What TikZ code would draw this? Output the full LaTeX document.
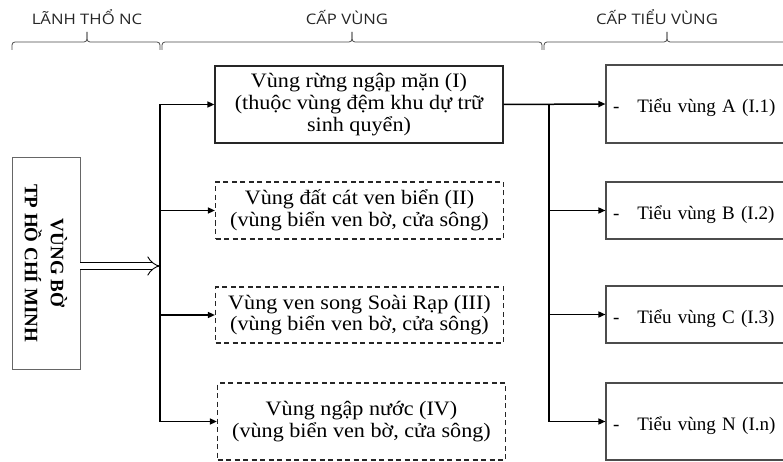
\documentclass[tikz,border=0pt]{standalone}
\usepackage{fontspec}
\setmainfont{Liberation Serif}
\newfontfamily\hdrfont[FakeStretch=1.15]{Open Sans}
\newfontfamily\widefont[FakeStretch=1.08]{Liberation Serif}
\usetikzlibrary{arrows.meta}
\begin{document}
\begin{tikzpicture}[x=1pt,y=-1pt,
 hdr/.style={font=\hdrfont\fontsize{14.5}{16}\selectfont, anchor=base, inner sep=0pt, text=black!85},
 brc/.style={draw=black!70, line width=0.8pt, rounded corners=3pt},
 mainbox/.style={draw=black!85, line width=1.2pt, minimum width=288pt, inner sep=0pt, align=center, font=\widefont\fontsize{20.5}{21.6}\selectfont},
 dashbox/.style={mainbox, dash pattern=on 5pt off 3.5pt},
 subbox/.style={draw=black!70, line width=1.1pt, minimum width=194pt, text width=180pt, align=left, inner xsep=7pt, inner ysep=0pt, text height=20pt, text depth=3pt, font=\fontsize{19}{21}\selectfont},
 leftbox/.style={draw=black!60, line width=0.9pt, rotate=-90, minimum width=212pt, minimum height=68pt, inner sep=0pt, align=center, font=\bfseries\fontsize{19}{26}\selectfont},
 conn/.style={line width=1.5pt, black},
 arr/.style={conn, -{Triangle[length=7pt,width=6pt]}},
 dbl/.style={double, double distance=6pt, line width=0.9pt, -{Implies}}
]
\clip (0,0) rectangle (783,462);
\fill[white] (0,0) rectangle (783,462);

% headers
\node[hdr] (h1) at (87,25) {LÃNH THỔ NC};
\node[hdr] (h2) at (347,25) {CẤP VÙNG};
\node[hdr] (h3) at (657,25) {CẤP TIỂU VÙNG};

% braces
\draw[brc] (12,50) -- (12,42) -- (87,42) -- (87,32);
\draw[brc] (160,50) -- (160,42) -- (87,42) -- (87,32);
\draw[brc] (162,50) -- (162,42) -- (352,42) -- (352,32);
\draw[brc] (542,50) -- (542,42) -- (352,42) -- (352,32);
\draw[brc] (544,50) -- (544,42) -- (667,42) -- (667,32);
\draw[brc] (790,50) -- (790,42) -- (667,42) -- (667,32);

% left box
\node[leftbox] (L) at (46,263) {VÙNG BỜ\\TP HỒ CHÍ MINH};

% main boxes
\node[mainbox, minimum height=77pt] (I) at (359,104.5) {Vùng rừng ngập mặn (I)\\(thuộc vùng đệm khu dự trữ\\sinh quyển)};
\node[dashbox, minimum height=57pt] (II) at (359.5,210.5) {Vùng đất cát ven biển (II)\\(vùng biển ven bờ, cửa sông)};
\node[dashbox, minimum height=56pt] (III) at (359.5,315) {Vùng ven song Soài Rạp (III)\\(vùng biển ven bờ, cửa sông)};
\node[dashbox, minimum height=77pt] (IV) at (361.5,421.5) {Vùng ngập nước (IV)\\(vùng biển ven bờ, cửa sông)};

% sub boxes
\node[subbox, minimum height=78pt] (A) at (703,104) {-\hspace{18pt}Tiểu vùng A (I.1)};
\node[subbox, minimum height=57pt] (B) at (703,210.5) {-\hspace{18pt}Tiểu vùng B (I.2)};
\node[subbox, minimum height=57pt] (C) at (703,314.5) {-\hspace{18pt}Tiểu vùng C (I.3)};
\node[subbox, minimum height=77pt] (N) at (703,421.5) {-\hspace{18pt}Tiểu vùng N (I.n)};

% connectors
\coordinate (lb) at (160,0);
\coordinate (rb) at (549,0);
\coordinate (dA) at ([yshift=-3pt]L.north);
\draw[dbl] (dA) -- (lb |- dA);
\draw[conn] (lb |- I.west) -- (lb |- IV.west);
\foreach \n in {I,II,III,IV} \draw[arr] (lb |- \n.west) -- (\n.west);
\draw[arr] (I.east) -- (A.west);
\draw[conn] (rb |- I.east) -- (rb |- N.west);
\foreach \n in {B,C,N} \draw[arr] (rb |- \n.west) -- (\n.west);
\end{tikzpicture}
\end{document}
